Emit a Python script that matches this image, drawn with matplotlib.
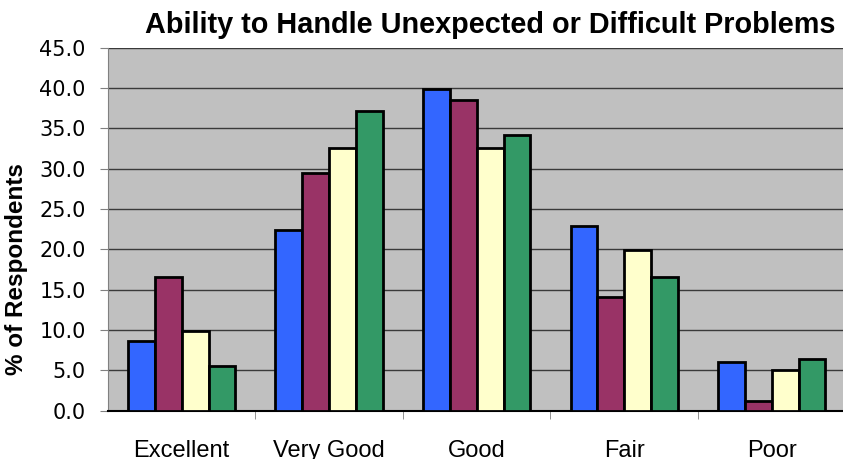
import numpy as np
import matplotlib
matplotlib.use("Agg")
import matplotlib.pyplot as plt

# --- DATA ---
categories = ["Excellent", "Very Good", "Good", "Fair", "Poor"]
series_1 = [8.7, 22.4, 39.9, 22.9, 6.0]
series_2 = [16.6, 29.5, 38.5, 14.1, 1.2]
series_3 = [9.9, 32.6, 32.6, 19.9, 5.0]
series_4 = [5.5, 37.1, 34.2, 16.6, 6.4]
y_ticks = [0, 5, 10, 15, 20, 25, 30, 35, 40, 45]

colors = ["#3366FF", "#993366", "#FFFFCC", "#339966"]

plt.rcParams['font.family'] = ['DejaVu Sans']

fig = plt.figure(figsize=(8.43, 4.59), dpi=100)
ax = fig.add_axes([0.128, 0.105, 0.875, 0.7915])
ax.set_facecolor("#C0C0C0")

x = np.arange(len(categories))
width = 0.182
all_series = [series_1, series_2, series_3, series_4]
for i, vals in enumerate(all_series):
    ax.bar(x + (i - 1.5) * width, vals, width, color=colors[i],
           edgecolor="black", linewidth=2.0, zorder=3)

ax.set_xlim(-0.5, len(categories) - 0.5)
ax.set_ylim(0, 45)
ax.set_yticks(y_ticks)
ax.set_yticklabels([f"{v:.1f}" for v in y_ticks], fontsize=15)
ax.yaxis.grid(True, color="#3a3a3a", linewidth=1.0, zorder=1)

ax.set_xticks(x)
ax.set_xticklabels(categories, fontsize=17, family="Liberation Sans")
ax.tick_params(axis='x', which='major', length=0, pad=21)
ax.set_xticks(np.arange(0.5, len(categories) - 0.5), minor=True)
ax.tick_params(axis='x', which='minor', length=6, color="#808080", direction='out')
ax.tick_params(axis='y', length=6, color="#808080", direction='out', pad=10)

for side in ["top", "right"]:
    ax.spines[side].set_visible(False)
ax.spines["left"].set_color("#808080")
ax.spines["bottom"].set_color("black")
ax.spines["bottom"].set_linewidth(1.5)

fig.text(17 / 843, 1 - 269 / 459, "% of Respondents", rotation=90,
         ha="center", va="center", fontsize=17.5, fontweight="bold",
         family="Liberation Sans")
fig.text(490 / 843, 1 - 32.7 / 459, "Ability to Handle Unexpected or Difficult Problems",
         ha="center", va="baseline", fontsize=20.8, fontweight="bold",
         family="Liberation Sans")

fig.savefig("out.png", dpi=100)
